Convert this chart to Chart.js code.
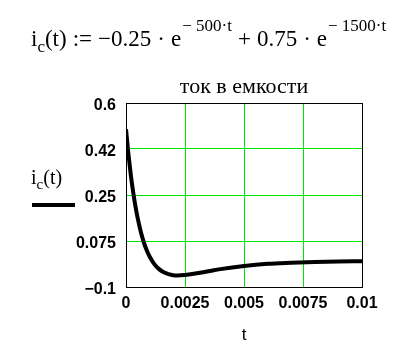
<!DOCTYPE html>
<html>
<head>
<meta charset="utf-8">
<script src="https://cdn.jsdelivr.net/npm/chart.js@4"></script>
<style>
  body { margin: 0; background: #fff; }
  #wrap { position: relative; width: 407px; height: 354px; }
  #c { position: absolute; left: 0; top: 0; }
  .formula { position: absolute; left: 31px; top: 26px; font-family: "Liberation Serif", "DejaVu Serif", serif; font-size: 23px; color: #000; white-space: nowrap; }
  .formula sup { font-size: 17px; vertical-align: 0; position: relative; top: -15px; margin-left: 1px; }
  .formula sub { font-size: 17px; vertical-align: 0; position: relative; top: 6px; }
  .formula .op { margin: 0 6px; }
  .title { position: absolute; left: 126px; width: 236px; top: 73px; text-align: center; font-family: "Liberation Serif", serif; font-size: 22px; }
  .leg { position: absolute; left: 31px; top: 166px; font-family: "Liberation Serif", serif; font-size: 20px; }
  .leg sub { font-size: 15px; vertical-align: 0; position: relative; top: 5px; }
  .legline { position: absolute; left: 32px; top: 203px; width: 43px; height: 4px; background: #000; }
</style>
</head>
<body>
<div id="wrap">
  <canvas id="c" width="407" height="354"></canvas>
  <div class="formula">i<sub>c</sub>(t)<span class="op">:=</span>&minus;0.25<span class="op">&middot;</span>e<sup>&minus; 500&middot;t</sup><span class="op">+</span>0.75<span class="op">&middot;</span>e<sup>&minus; 1500&middot;t</sup></div>
  <div class="title">ток в емкости</div>
  <div class="leg">i<sub>c</sub>(t)</div>
  <div class="legline"></div>
</div>
<script>
   // values
   var tValues = [0, 0.0001, 0.0002, 0.0003, 0.0004, 0.0005, 0.0006, 0.0007, 0.0008, 0.0009, 0.001,
                  0.0012, 0.0014, 0.0016, 0.0018, 0.002, 0.0022, 0.0025, 0.003, 0.0035, 0.004,
                  0.005, 0.006, 0.007, 0.008, 0.009, 0.01];
   var icValues = [0.5, 0.408, 0.329, 0.263, 0.207, 0.160, 0.120, 0.086, 0.058, 0.035, 0.016,
                   -0.013, -0.032, -0.044, -0.051, -0.055, -0.056, -0.054, -0.048, -0.040, -0.032,
                   -0.020, -0.012, -0.008, -0.005, -0.003, -0.002];
   var xTicks = [0, 0.0025, 0.005, 0.0075, 0.01];
   var xTickLabels = ['0', '0.0025', '0.005', '0.0075', '0.01'];
   var yTicks = [-0.1, 0.075, 0.25, 0.425, 0.6];
   var yTickLabels = ['\u22120.1', '0.075', '0.25', '0.42', '0.6'];

   var points = [];
   for (var i = 0; i < tValues.length; i++) {
       points.push({x: tValues[i], y: icValues[i]});
   }

   var green = '#00e600';
   function gridColor(ctx) {
       var n = ctx.scale.ticks.length;
       return (ctx.index === 0 || ctx.index === n - 1) ? '#000' : green;
   }
   var tickFont = {family: 'Liberation Sans, Arial, sans-serif', size: 16, weight: 'bold'};

   var ctx = document.getElementById('c').getContext('2d');
   var chart = new Chart(ctx, {
       type: 'line',
       data: {
           datasets: [{
               label: 'ic(t)',
               data: points,
               borderColor: '#000',
               borderWidth: 4,
               pointRadius: 0,
               cubicInterpolationMode: 'monotone',
               fill: false
           }]
       },
       options: {
           responsive: false,
           animation: false,
           layout: {padding: {left: 0, right: 45, top: 103, bottom: 0}},
           plugins: {
               legend: {display: false},
               tooltip: {enabled: false}
           },
           scales: {
               x: {
                   type: 'linear',
                   min: 0,
                   max: 0.01,
                   afterBuildTicks: function(s) { s.ticks = xTicks.map(function(v) { return {value: v}; }); },
                   afterFit: function(s) { s.height = 67; },
                   grid: {color: gridColor, lineWidth: 1, drawTicks: false},
                   border: {display: true, color: '#000'},
                   ticks: {
                       color: '#000',
                       font: tickFont,
                       padding: 7,
                       maxRotation: 0,
                       autoSkip: false,
                       callback: function(v, i) { return xTickLabels[i]; }
                   },
                   title: {
                       display: true,
                       text: 't',
                       color: '#000',
                       font: {family: 'Liberation Sans, Arial, sans-serif', size: 17},
                       padding: {top: 0, bottom: 8}
                   }
               },
               y: {
                   min: -0.1,
                   max: 0.6,
                   afterBuildTicks: function(s) { s.ticks = yTicks.map(function(v) { return {value: v}; }); },
                   afterFit: function(s) { s.width = 126; },
                   grid: {color: gridColor, lineWidth: 1, drawTicks: false},
                   border: {display: true, color: '#000'},
                   ticks: {
                       color: '#000',
                       font: tickFont,
                       padding: 10,
                       labelOffset: 3,
                       autoSkip: false,
                       callback: function(v, i) { return yTickLabels[i]; }
                   }
               }
           }
       }
   });
</script>
</body>
</html>
